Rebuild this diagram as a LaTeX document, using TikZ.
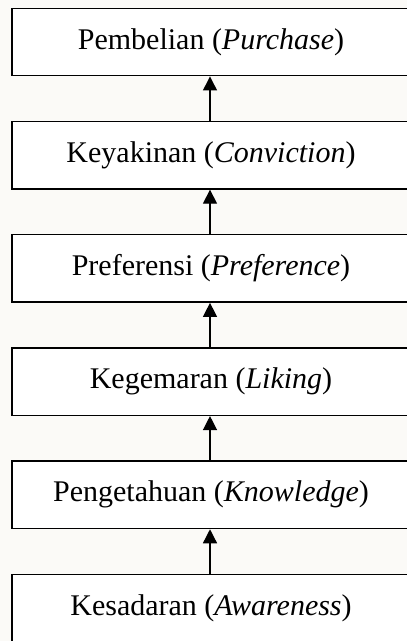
\documentclass[tikz,border=0pt]{standalone}
\usepackage{fontspec}
\setmainfont{Liberation Serif}
\usetikzlibrary{arrows.meta, positioning}
\definecolor{papercream}{RGB}{251,250,247}
\begin{document}
\begin{tikzpicture}[x=1pt, y=1pt, node distance=44.3pt,
  stage/.style={draw, line width=1.4pt, fill=white, minimum width=398pt,
                minimum height=67.5pt, inner sep=0pt,
                font=\fontsize{30}{35}\selectfont},
  up/.style={line width=1.3pt, -{Triangle[width=14pt, length=14pt]}}]
\fill[papercream] (0,0) rectangle (407,-641);
\useasboundingbox (0,0) rectangle (407,-641);
\node[stage] (purchase) at (211,-42) {Pembelian (\textit{Purchase})};
\node[stage, below=of purchase] (conviction) {Keyakinan (\textit{Conviction})};
\node[stage, below=of conviction] (preference) {Preferensi (\textit{Preference})};
\node[stage, below=of preference] (liking) {Kegemaran (\textit{Liking})};
\node[stage, below=of liking] (knowledge) {Pengetahuan (\textit{Knowledge})};
\node[stage, below=of knowledge] (awareness) {Kesadaran (\textit{Awareness})};
\draw[up] ([xshift=-1pt]awareness.north) -- ([xshift=-1pt]knowledge.south);
\draw[up] ([xshift=-1pt]knowledge.north) -- ([xshift=-1pt]liking.south);
\draw[up] ([xshift=-1pt]liking.north) -- ([xshift=-1pt]preference.south);
\draw[up] ([xshift=-1pt]preference.north) -- ([xshift=-1pt]conviction.south);
\draw[up] ([xshift=-1pt]conviction.north) -- ([xshift=-1pt]purchase.south);
\end{tikzpicture}
\end{document}
